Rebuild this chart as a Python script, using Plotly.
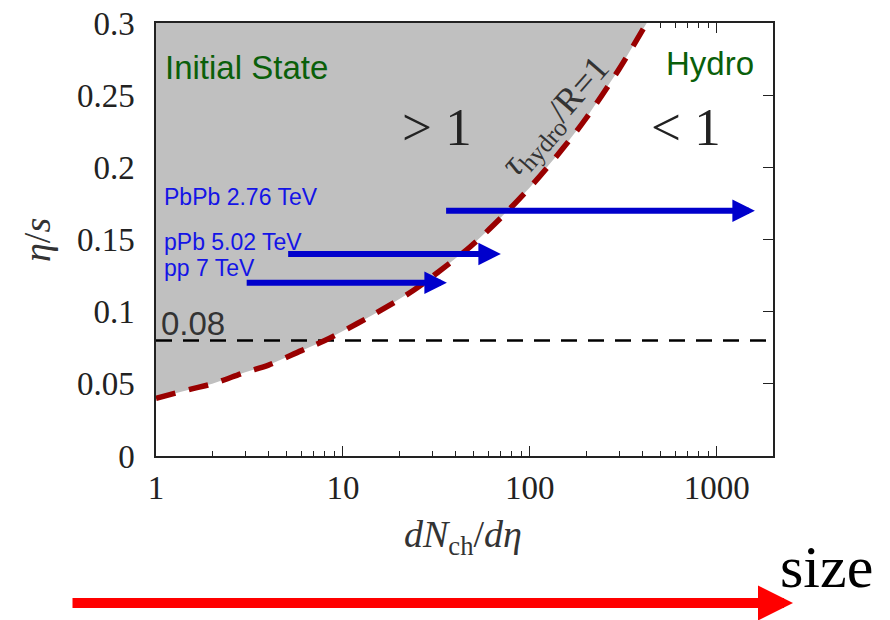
import math
import plotly.graph_objects as go

# ---------------- data ----------------
dnch_boundary = [1, 1.5, 2, 3, 4, 6, 8, 12, 16, 24, 32, 48, 64, 100, 150, 200, 300, 422]
etas_boundary = [0.040, 0.046, 0.050, 0.058, 0.063, 0.073, 0.080, 0.092, 0.101, 0.115,
                 0.127, 0.145, 0.160, 0.186, 0.213, 0.234, 0.268, 0.300]

systems = ["PbPb 2.76 TeV", "pPb 5.02 TeV", "pp 7 TeV"]
sys_dn_start = [35, 5, 3]
sys_dn_end = [1600, 70, 36]
sys_etas = [0.17, 0.14, 0.12]

kss_value = 0.08
x_range = [1, 2000]
y_range = [0, 0.3]
xtick_vals = [1, 10, 100, 1000]
xtick_text = ["1", "10", "100", "1000"]
xminor_vals = [m * d for d in (1, 10, 100, 1000) for m in range(2, 10) if m * d < 2000]
ytick_vals = [0, 0.05, 0.1, 0.15, 0.2, 0.25, 0.3]
ytick_text = ["0", "0.05", "0.1", "0.15", "0.2", "0.25", "0.3"]

# ---------------- layout helpers ----------------
W, H = 890, 620
ML, MT = 156, 23
PW, PH = 617, 433
MR, MB = W - ML - PW, H - MT - PH


def px(xs):
    """screen x pixel -> paper coordinate"""
    return (xs - ML) / PW


def py(ys):
    """screen y pixel -> paper coordinate"""
    return (MT + PH - ys) / PH


SERIF = "Liberation Serif"
SANS = "Liberation Sans"
GRAY = "#c0c0c0"
RED = "#990000"
BLUE = "#0000cc"
GREEN = "#0a5f0a"

fig = go.Figure()

# shaded "initial state" region (above the boundary curve)
fig.add_trace(go.Scatter(
    x=dnch_boundary + [dnch_boundary[-1], x_range[0]],
    y=etas_boundary + [y_range[1], y_range[1]],
    fill="toself", fillcolor=GRAY, mode="lines", line=dict(width=0, color=GRAY),
    hoverinfo="skip", showlegend=False))

# KSS bound line
fig.add_trace(go.Scatter(
    x=x_range, y=[kss_value, kss_value], mode="lines",
    line=dict(color="black", width=2.5, dash="16px,11px"),
    hoverinfo="skip", showlegend=False))

# boundary curve tau_hydro/R = 1
fig.add_trace(go.Scatter(
    x=dnch_boundary, y=etas_boundary, mode="lines",
    line=dict(color=RED, width=5.5, dash="20px,14px", shape="spline"),
    hoverinfo="skip", showlegend=False))

# dummy trace to create the mirrored tick axes
fig.add_trace(go.Scatter(x=[1], y=[0], xaxis="x2", yaxis="y2", mode="markers",
                         marker=dict(opacity=0), hoverinfo="skip", showlegend=False))

annotations = []

# blue arrows
for name, x0, x1, yv in zip(systems, sys_dn_start, sys_dn_end, sys_etas):
    annotations.append(dict(
        x=math.log10(x1), y=yv, ax=math.log10(x0), ay=yv,
        xref="x", yref="y", axref="x", ayref="y", text="",
        showarrow=True, arrowhead=2, arrowsize=0.75, arrowwidth=6,
        arrowcolor=BLUE, standoff=0, startstandoff=0))

# system labels
label_y = [197, 242, 268]
for name, ly in zip(systems, label_y):
    annotations.append(dict(
        x=px(162), y=py(ly), xref="paper", yref="paper", text=name,
        showarrow=False, xanchor="left", yanchor="middle",
        font=dict(family=SANS, size=23, color="#1414e6")))

annotations += [
    dict(x=px(163), y=py(67), xref="paper", yref="paper", text="Initial State",
         showarrow=False, xanchor="left", yanchor="middle",
         font=dict(family=SANS, size=33, color=GREEN)),
    dict(x=px(756), y=py(63), xref="paper", yref="paper", text="Hydro",
         showarrow=False, xanchor="right", yanchor="middle",
         font=dict(family=SANS, size=33, color=GREEN)),
    dict(x=px(437), y=py(127), xref="paper", yref="paper", text="&gt; 1",
         showarrow=False, xanchor="center", yanchor="middle",
         font=dict(family=SERIF, size=53, color="#222")),
    dict(x=px(686), y=py(127), xref="paper", yref="paper", text="&lt; 1",
         showarrow=False, xanchor="center", yanchor="middle",
         font=dict(family=SERIF, size=53, color="#222")),
    dict(x=px(556), y=py(117), xref="paper", yref="paper",
         text="<i>τ</i><sub>hydro</sub>/R=1",
         showarrow=False, xanchor="center", yanchor="middle", textangle=-49,
         font=dict(family=SERIF, size=36, color="#333")),
    dict(x=px(159), y=py(323), xref="paper", yref="paper", text="0.08",
         showarrow=False, xanchor="left", yanchor="middle",
         font=dict(family=SANS, size=33, color="#333")),
    # axis titles
    dict(x=px(463), y=py(537), xref="paper", yref="paper",
         text="<i>dN</i><sub>ch</sub>/<i>dη</i>",
         showarrow=False, xanchor="center", yanchor="middle",
         font=dict(family=SERIF, size=38, color="#333")),
    dict(x=px(37), y=py(240), xref="paper", yref="paper",
         text="<i>η</i>/<i>s</i>", textangle=-90,
         showarrow=False, xanchor="center", yanchor="middle",
         font=dict(family=SERIF, size=38, color="#333")),
    # "size" arrow
    dict(x=px(793), y=py(603), xref="paper", yref="paper", text="",
         ax=71 - 793, ay=0, axref="pixel", ayref="pixel",
         showarrow=True, arrowhead=2, arrowsize=0.7, arrowwidth=10,
         arrowcolor="#ff0000", standoff=0, startstandoff=0),
    dict(x=px(826), y=py(567), xref="paper", yref="paper", text="size",
         showarrow=False, xanchor="center", yanchor="middle",
         font=dict(family=SERIF, size=60, color="black")),
]

axis_common = dict(showgrid=False, zeroline=False, automargin=False)
minor_x = dict(ticks="inside", ticklen=5, tickwidth=1, tickcolor="#222",
               tickvals=xminor_vals, showgrid=False)

fig.update_layout(
    width=W, height=H, autosize=False,
    margin=dict(l=ML, r=MR, t=MT, b=MB, pad=0, autoexpand=False),
    paper_bgcolor="white", plot_bgcolor="white",
    showlegend=False,
    xaxis=dict(type="log", range=[math.log10(x_range[0]), math.log10(x_range[1])],
               tickvals=xtick_vals, ticktext=xtick_text,
               ticks="inside", ticklen=10, tickwidth=1.2, tickcolor="#222",
               minor=minor_x,
               showline=True, linecolor="#222", linewidth=1.5, mirror=True,
               tickfont=dict(family=SERIF, size=33, color="#222"),
               ticklabelstandoff=2, ticklabeloverflow="allow", **axis_common),
    yaxis=dict(range=y_range, tickvals=ytick_vals, ticktext=ytick_text,
               ticks="", showline=True, linecolor="#222", linewidth=1.5, mirror=True,
               tickfont=dict(family=SERIF, size=33, color="#222"),
               ticklabelstandoff=13, ticklabeloverflow="allow", **axis_common),
    xaxis2=dict(type="log", range=[math.log10(x_range[0]), math.log10(x_range[1])],
                overlaying="x", side="top", anchor="y2",
                tickvals=xtick_vals, ticks="inside", ticklen=10, tickwidth=1.2,
                tickcolor="#222", showticklabels=False, showline=False,
                minor=minor_x, layer="below traces", **axis_common),
    yaxis2=dict(range=y_range, overlaying="y", side="right", anchor="x2",
                tickvals=ytick_vals, ticks="inside", ticklen=10, tickwidth=1.2,
                tickcolor="#222", showticklabels=False, showline=False,
                layer="below traces", **axis_common),
    annotations=annotations,
)

fig.write_html("out.html", config=dict(displayModeBar=False),
               post_script="document.body.style.margin='0';"
                           "document.body.style.overflow='hidden';")
